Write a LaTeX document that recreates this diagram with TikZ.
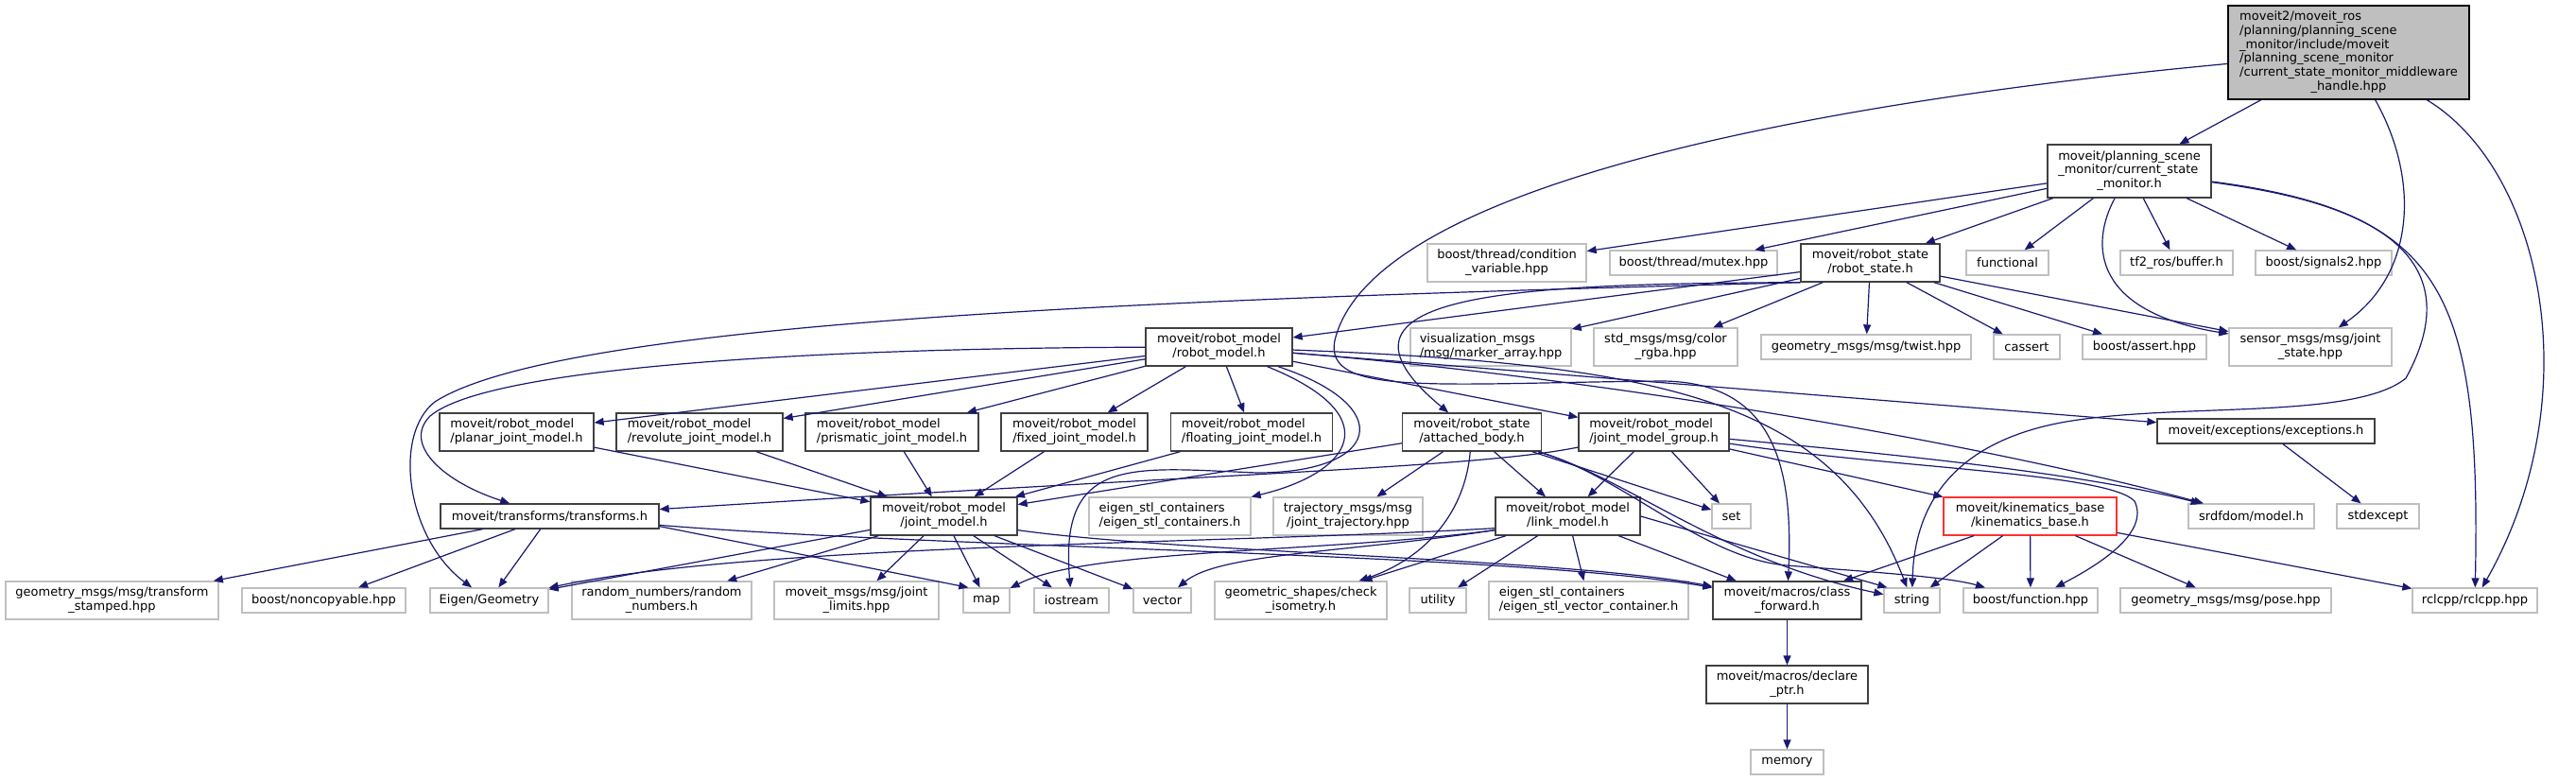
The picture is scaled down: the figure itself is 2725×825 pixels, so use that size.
\documentclass[tikz,border=0pt]{standalone}
\usepackage{fontspec}
\setmainfont{DejaVu Sans}
\usetikzlibrary{arrows.meta}
\definecolor{edgec}{HTML}{191970}
\definecolor{extc}{HTML}{BFBFBF}
\definecolor{docc}{HTML}{404040}
\definecolor{redc}{HTML}{FF3030}
\newcommand{\ml}[2]{\begin{tabular}{@{}l@{}}#1\\\multicolumn{1}{@{}c@{}}{#2}\end{tabular}}
\begin{document}
\begin{tikzpicture}[x=1pt,y=-1pt,
  box/.style={draw, inner sep=0pt, fill=white, line width=1.3pt, text=black,
    font=\fontsize{13}{14.7}\selectfont},
  doc/.style={box, draw=docc},
  ext/.style={box, draw=extc},
  redbox/.style={box, draw=redc},
  topbox/.style={box, draw=black, fill=extc},
  sz/.style 2 args={minimum width=#1pt, minimum height=#2pt},
  edge/.style={draw=edgec, line width=1.2pt, -{Triangle[length=10pt,width=8pt]}},
]
\fill[white] (0,0) rectangle (2725,825);
\useasboundingbox (0,0) rectangle (2725,825);

% row 0/1
\node[topbox, sz={255}{99}] (top) at (2484.5,55.5) {\ml{moveit2/moveit\_ros\\/planning/planning\_scene\\\_monitor/include/moveit\\/planning\_scene\_monitor\\/current\_state\_monitor\_middleware}{\_handle.hpp}};
\node[doc, sz={173}{56}] (csm) at (2252.5,181) {\ml{moveit/planning\_scene\\\_monitor/current\_state}{\_monitor.h}};
% row 2
\node[ext, sz={168}{40}] (cv) at (1594,278) {\ml{boost/thread/condition}{\_variable.hpp}};
\node[ext, sz={177}{26}] (mtx) at (1791.5,278) {boost/thread/mutex.hpp};
\node[doc, sz={147}{40}] (rs) at (1978.5,278) {\ml{moveit/robot\_state}{/robot\_state.h}};
\node[ext, sz={87}{26}] (fun) at (2123.5,278) {functional};
\node[ext, sz={119}{26}] (tf) at (2302.5,278) {tf2\_ros/buffer.h};
\node[ext, sz={144}{26}] (sig) at (2458,278) {boost/signals2.hpp};
% row 3
\node[doc, sz={155}{40}] (rm) at (1289.5,367) {\ml{moveit/robot\_model}{/robot\_model.h}};
\node[ext, sz={170}{40}] (vis) at (1577,367) {\ml{visualization\_msgs}{/msg/marker\_array.hpp}};
\node[ext, sz={152}{40}] (col) at (1762,367) {\ml{std\_msgs/msg/color}{\_rgba.hpp}};
\node[ext, sz={222}{26}] (tw) at (1974,367) {geometry\_msgs/msg/twist.hpp};
\node[ext, sz={70}{26}] (cas) at (2144,367) {cassert};
\node[ext, sz={131}{26}] (ba) at (2268.5,367) {boost/assert.hpp};
\node[ext, sz={172}{40}] (js) at (2444,367) {\ml{sensor\_msgs/msg/joint}{\_state.hpp}};
% row 4
\node[doc, sz={163}{40}] (pla) at (546.5,457) {\ml{moveit/robot\_model}{/planar\_joint\_model.h}};
\node[doc, sz={176}{40}] (rev) at (740,457) {\ml{moveit/robot\_model}{/revolute\_joint\_model.h}};
\node[doc, sz={183}{40}] (pri) at (943.5,457) {\ml{moveit/robot\_model}{/prismatic\_joint\_model.h}};
\node[doc, sz={155}{40}] (fix) at (1136.5,457) {\ml{moveit/robot\_model}{/fixed\_joint\_model.h}};
\node[doc, sz={171}{40}] (flo) at (1324,457) {\ml{moveit/robot\_model}{/floating\_joint\_model.h}};
\node[doc, sz={147}{40}] (ab) at (1557,457) {\ml{moveit/robot\_state}{/attached\_body.h}};
\node[doc, sz={159}{40}] (jmg) at (1749.5,457) {\ml{moveit/robot\_model}{/joint\_model\_group.h}};
\node[doc, sz={230}{26}] (exc) at (2397,456) {moveit/exceptions/exceptions.h};
% row 5
\node[doc, sz={231}{26}] (tr) at (581.5,546) {moveit/transforms/transforms.h};
\node[doc, sz={155}{40}] (jm) at (998.5,546) {\ml{moveit/robot\_model}{/joint\_model.h}};
\node[ext, sz={171}{40}] (esc) at (1237.5,546) {\ml{eigen\_stl\_containers}{/eigen\_stl\_containers.h}};
\node[ext, sz={158}{40}] (traj) at (1426,546) {\ml{trajectory\_msgs/msg}{/joint\_trajectory.hpp}};
\node[doc, sz={153}{40}] (lm) at (1658.5,546) {\ml{moveit/robot\_model}{/link\_model.h}};
\node[ext, sz={41}{26}] (set) at (1831.5,546) {set};
\node[redbox, sz={183}{40}] (kb) at (2147.5,546) {\ml{moveit/kinematics\_base}{/kinematics\_base.h}};
\node[ext, sz={133}{26}] (srd) at (2381.5,546) {srdfdom/model.h};
\node[ext, sz={87}{26}] (sx) at (2515.5,546) {stdexcept};
% row 6
\node[ext, sz={225}{40}] (ts) at (118.5,635) {\ml{geometry\_msgs/msg/transform}{\_stamped.hpp}};
\node[ext, sz={173}{26}] (nc) at (342.5,635) {boost/noncopyable.hpp};
\node[ext, sz={125}{26}] (eig) at (517.5,635) {Eigen/Geometry};
\node[ext, sz={190}{40}] (rn) at (700,635) {\ml{random\_numbers/random}{\_numbers.h}};
\node[ext, sz={174}{40}] (jl) at (906,635) {\ml{moveit\_msgs/msg/joint}{\_limits.hpp}};
\node[ext, sz={49}{26}] (map) at (1043.5,635) {map};
\node[ext, sz={79}{26}] (ios) at (1133.5,635) {iostream};
\node[ext, sz={61}{26}] (vec) at (1229.5,635) {vector};
\node[ext, sz={182}{40}] (ci) at (1376,635) {\ml{geometric\_shapes/check}{\_isometry.h}};
\node[ext, sz={60}{26}] (util) at (1521,635) {utility};
\node[ext, sz={211}{40}] (esv) at (1680.5,635) {\ml{eigen\_stl\_containers}{/eigen\_stl\_vector\_container.h}};
\node[doc, sz={157}{40}] (cf) at (1890.5,635) {\ml{moveit/macros/class}{\_forward.h}};
\node[ext, sz={59}{26}] (str) at (2022.5,635) {string};
\node[ext, sz={142}{26}] (bf) at (2148,635) {boost/function.hpp};
\node[ext, sz={223}{26}] (pose) at (2354.5,635) {geometry\_msgs/msg/pose.hpp};
\node[ext, sz={132}{26}] (rcl) at (2618,635) {rclcpp/rclcpp.hpp};
% rows 7/8
\node[doc, sz={171}{40}] (dp) at (1890.5,724) {\ml{moveit/macros/declare}{\_ptr.h}};
\node[ext, sz={77}{26}] (mem) at (1890.5,806) {memory};

% ---- edges ----
% top
\draw[edge] (top) -- (csm);
\draw[edge] (top) .. controls (2560,190) and (2555,290) .. (js);
\draw[edge] (top) .. controls (2690,180) and (2740,420) .. (rcl);
\draw[edge] (top) .. controls (1900,110) and (1450,200) .. (1412,360)
  .. controls (1400,420) and (1520,405) .. (1760,403)
  .. controls (1880,405) and (1897,500) .. (cf);
% current_state_monitor
\draw[edge] (csm) -- (cv);
\draw[edge] (csm) -- (mtx);
\draw[edge] (csm) -- (rs);
\draw[edge] (csm) -- (fun);
\draw[edge] (csm) -- (tf);
\draw[edge] (csm) -- (sig);
\draw[edge] (csm) .. controls (2210,260) and (2215,330) .. (js);
\draw[edge] (csm) .. controls (2560,220) and (2600,300) .. (2545,400)
  .. controls (2490,445) and (2300,425) .. (2180,447)
  .. controls (2060,470) and (2025,540) .. (str);
\draw[edge] (csm) .. controls (2580,225) and (2625,300) .. (rcl);
% robot_state
\draw[edge] (rs) -- (rm);
\draw[edge] (rs) -- (vis);
\draw[edge] (rs) -- (col);
\draw[edge] (rs) -- (tw);
\draw[edge] (rs) -- (cas);
\draw[edge] (rs) -- (ba);
\draw[edge] (rs) -- (js);
\draw[edge] (rs.south west) .. controls (1600,300) and (1380,310) .. (ab);
\draw[edge] (rs.south west) .. controls (1300,315) and (600,335) .. (460,425)
  .. controls (415,460) and (430,570) .. (eig);
% robot_model
\draw[edge] (rm) .. controls (900,368) and (520,385) .. (455,440)
  .. controls (425,470) and (470,510) .. (tr);
\draw[edge] (rm) -- (pla);
\draw[edge] (rm) -- (rev);
\draw[edge] (rm) -- (pri);
\draw[edge] (rm) -- (fix);
\draw[edge] (rm) -- (flo);
\draw[edge] (rm) -- (jmg);
\draw[edge] (rm) -- (exc);
\draw[edge] (rm) .. controls (1700,400) and (2100,470) .. (srd);
\draw[edge] (rm) .. controls (1750,385) and (1940,420) .. (str);
\draw[edge] (rm) .. controls (1470,440) and (1430,500) .. (esc);
\draw[edge] (rm) .. controls (1480,430) and (1460,500) .. (1330,500)
  .. controls (1200,495) and (1120,480) .. (ios);
% joint model variants
\draw[edge] (pla) -- (jm);
\draw[edge] (rev) -- (jm);
\draw[edge] (pri) -- (jm);
\draw[edge] (fix) -- (jm);
\draw[edge] (flo) -- (jm);
% attached_body
\draw[edge] (ab) -- (jm);
\draw[edge] (ab) -- (traj);
\draw[edge] (ab) -- (lm);
\draw[edge] (ab) -- (set);
\draw[edge] (ab) .. controls (1550,540) and (1510,590) .. (ci);
\draw[edge] (ab) .. controls (1720,505) and (1820,592) .. (str);
\draw[edge] (ab) .. controls (1720,505) and (1800,590) .. (1890,598)
  .. controls (1980,605) and (2060,610) .. (bf);
% joint_model_group
\draw[edge] (jmg) .. controls (1560,495) and (1300,500) .. (tr);
\draw[edge] (jmg) -- (lm);
\draw[edge] (jmg) -- (set);
\draw[edge] (jmg) -- (kb);
\draw[edge] (jmg) .. controls (2000,480) and (2200,500) .. (srd);
\draw[edge] (jmg) .. controls (2000,495) and (2230,500) .. (2258,530)
  .. controls (2275,565) and (2215,600) .. (bf);
% kinematics_base
\draw[edge] (kb) -- (cf);
\draw[edge] (kb) -- (str);
\draw[edge] (kb) -- (bf);
\draw[edge] (kb) -- (pose);
\draw[edge] (kb) -- (rcl);
% exceptions
\draw[edge] (exc) -- (sx);
% transforms
\draw[edge] (tr) -- (ts);
\draw[edge] (tr) -- (nc);
\draw[edge] (tr) -- (eig);
\draw[edge] ([yshift=3pt]tr.south east) -- ([xshift=6pt]map.north west);
\draw[edge] (tr) .. controls (1000,580) and (1600,585) .. (cf);
% joint_model
\draw[edge] (jm) -- (eig);
\draw[edge] (jm) -- (rn);
\draw[edge] (jm) -- (jl);
\draw[edge] (jm) -- (map);
\draw[edge] (jm) -- (ios);
\draw[edge] (jm) -- (vec);
\draw[edge] ([yshift=6pt]jm.south east) .. controls (1250,585) and (1650,590) .. (cf);
% link_model
\draw[edge] (lm) -- (ci);
\draw[edge] (lm) -- (util);
\draw[edge] (lm) -- (esv);
\draw[edge] (lm) -- (cf);
\draw[edge] (lm.east) -- ([xshift=4pt]str.north west);
\draw[edge] ([yshift=6pt]lm.south west) .. controls (1400,585) and (1150,580) .. (map);
\draw[edge] ([yshift=6pt]lm.south west) .. controls (1420,585) and (1290,585) .. (vec);
\draw[edge] ([yshift=8pt]lm.south west) .. controls (1300,575) and (800,575) .. (eig);
% macros
\draw[edge] (cf) -- (dp);
\draw[edge] (dp) -- (mem);
\end{tikzpicture}
\end{document}
